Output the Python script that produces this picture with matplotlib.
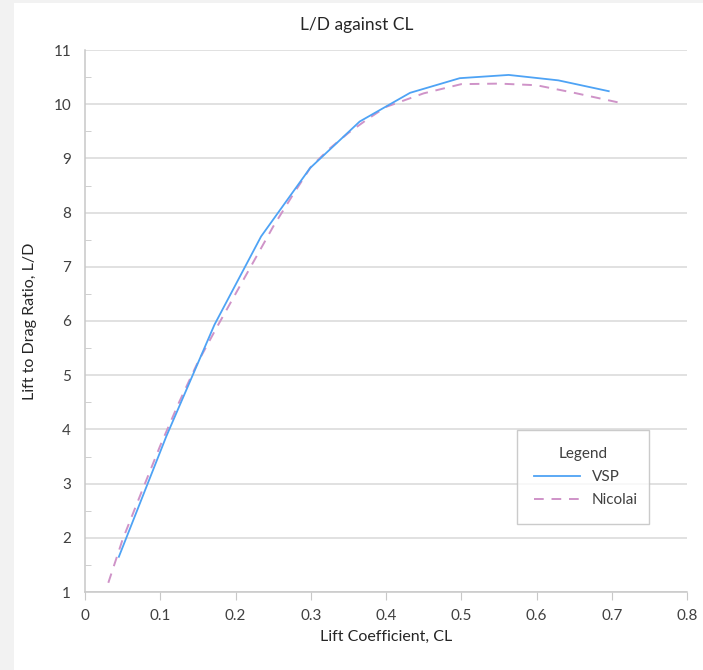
import matplotlib.pyplot as plt
from matplotlib.patches import Rectangle
from matplotlib.ticker import MultipleLocator

# VSP results
vsp_cl = [0.045, 0.108, 0.172, 0.234, 0.299, 0.365, 0.432, 0.498, 0.563, 0.629, 0.696]
vsp_ld = [1.65, 3.87, 5.93, 7.56, 8.82, 9.68, 10.21, 10.48, 10.54, 10.44, 10.24]

# Nicolai estimate
nic_cl = [0.031, 0.05, 0.075, 0.1, 0.125, 0.15, 0.175, 0.2, 0.225, 0.25, 0.275,
          0.3, 0.325, 0.35, 0.375, 0.4, 0.45, 0.5, 0.55, 0.6, 0.65, 0.713]
nic_ld = [1.17, 1.97, 2.84, 3.70, 4.50, 5.24, 5.88, 6.50, 7.12, 7.74, 8.30,
          8.84, 9.18, 9.47, 9.72, 9.95, 10.20, 10.37, 10.38, 10.35, 10.21, 10.02]

plt.rcParams['font.family'] = ['Lato', 'DejaVu Sans']

fig = plt.figure(figsize=(7.03, 6.70), dpi=100)
fig.patch.set_facecolor('white')
fig.patches.append(Rectangle((0, 0), 14 / 703, 1, transform=fig.transFigure,
                             facecolor='#f2f2f2', edgecolor='none', zorder=0))
fig.patches.append(Rectangle((0, 1 - 3 / 670), 1, 3 / 670, transform=fig.transFigure,
                             facecolor='#f2f2f2', edgecolor='none', zorder=0))

ax = fig.add_axes([85 / 703, 78 / 670, 602 / 703, 542 / 670])

ax.plot(vsp_cl, vsp_ld, color='#4ea3f5', lw=1.3, label='VSP', zorder=3)
ax.plot(nic_cl, nic_ld, color='#cf93c8', lw=1.4, ls=(0, (5, 4)), label='Nicolai', zorder=2)

ax.set_xlim(0, 0.8)
ax.set_ylim(1, 11)
ax.set_xticks([i / 10 for i in range(9)])
ax.set_xticklabels(['0'] + ['%.1f' % (i / 10) for i in range(1, 9)])
ax.yaxis.set_major_locator(MultipleLocator(1))
ax.yaxis.set_minor_locator(MultipleLocator(0.5))

ax.grid(axis='y', which='major', color='#d9d9d9', lw=1.1)
ax.set_axisbelow(True)
for s in ['top', 'right']:
    ax.spines[s].set_visible(False)
for s in ['left', 'bottom']:
    ax.spines[s].set_color('#c8c8c8')
    ax.spines[s].set_linewidth(1.1)

ax.tick_params(axis='x', which='major', direction='out', length=6, color='#c8c8c8',
               labelsize=11, labelcolor='#404040', pad=6)
ax.tick_params(axis='y', which='major', length=0, labelsize=11, labelcolor='#404040', pad=10)
ax.tick_params(axis='y', which='minor', direction='in', length=4, color='#c8c8c8')

ax.set_xlabel('Lift Coefficient, CL', fontsize=11.5, color='#262626', labelpad=5)
ax.set_ylabel('Lift to Drag Ratio, L/D', fontsize=11.5, color='#262626', labelpad=12)
fig.text(357 / 703, 1 - 25 / 670, 'L/D against CL', ha='center', va='center',
         fontsize=12.5, color='#262626')

leg = ax.legend(title='Legend', loc='upper left', bbox_to_anchor=(0.7176, 0.299, 0.2194, 0.0),
                mode='expand', borderaxespad=0, frameon=True, fancybox=False,
                fontsize=11, title_fontsize=11, handlelength=3, borderpad=1.1,
                labelspacing=0.6)
leg.get_frame().set_edgecolor('#bfbfbf')
leg.get_frame().set_linewidth(1)
leg.get_title().set_color('#404040')
for t in leg.get_texts():
    t.set_color('#404040')

fig.savefig('out.png', dpi=100)
